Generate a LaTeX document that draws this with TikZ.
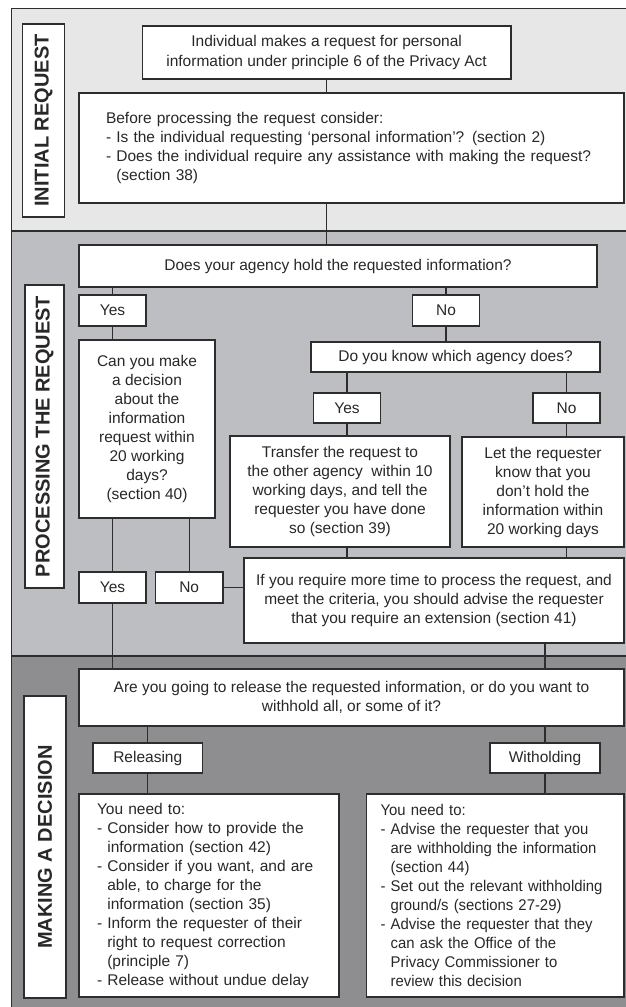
\documentclass[tikz,border=0pt]{standalone}
\usepackage{fontspec}
\setmainfont{Liberation Sans}
\newfontfamily\narrowfont[FakeStretch=0.96]{Liberation Sans}
\definecolor{bandA}{RGB}{231,231,231}
\definecolor{bandB}{RGB}{189,190,193}
\definecolor{bandC}{RGB}{142,142,145}
\definecolor{ink}{RGB}{40,40,40}
\definecolor{edge}{RGB}{45,45,45}
\newcommand\indt{\phantom{- }}
\tikzset{
  box/.style={draw=edge, fill=white, line width=1.1pt, inner sep=0pt, align=center,
    text=ink, font=\fontsize{15.5}{19}\selectfont},
  labbox/.style={draw=edge, fill=white, line width=1.1pt, inner sep=0pt, rotate=90,
    text=ink, font=\bfseries\fontsize{20}{24}\selectfont},
  band/.style={draw=edge, line width=1.6pt},
  conn/.style={draw=edge, line width=1.1pt}
}
\begin{document}
\begin{tikzpicture}[x=1pt,y=-1pt]
\useasboundingbox (0,0) rectangle (625,1007);
\fill[white] (0,0) rectangle (625,1007);
% bands
\path[band, fill=bandA] (11.5,8.5) rectangle (640,231);
\path[band, fill=bandB] (11.5,231) rectangle (640,656);
\path[band, fill=bandC] (11.5,656) rectangle (640,1015);

% initial request
\node[labbox, minimum width=193pt, minimum height=42pt] (lab1) at (43.6,120.5) {INITIAL REQUEST};
\node[box, minimum width=368.7pt, minimum height=53pt, font=\fontsize{15.5}{20}\selectfont] (top1) at (326.6,52.5)
  {Individual makes a request for personal\\information under principle 6 of the Privacy Act};
\node[box, minimum width=545pt, minimum height=110pt, text width=491pt, align=left] (cons) at (351.5,148)
  {Before processing the request consider:\\- Is the individual requesting ‘personal information’? (section 2)\\- Does the individual require any assistance with making the request?\\\indt(section 38)};

% processing the request
\node[labbox, minimum width=303pt, minimum height=39pt] (lab2) at (44.5,436.5) {PROCESSING THE REQUEST};
\node[box, minimum width=518pt, minimum height=42pt] (q1) at (338,266) {Does your agency hold the requested information?};
\node[box, minimum width=67pt, minimum height=31pt] (yes1) at (112.5,310.5) {Yes};
\node[box, minimum width=67pt, minimum height=31pt] (no1) at (446,310.5) {No};
\node[box, minimum width=289pt, minimum height=30pt] (q2) at (455.5,357) {Do you know which agency does?};
\node[box, minimum width=67pt, minimum height=30pt] (yes2) at (347,408) {Yes};
\node[box, minimum width=67pt, minimum height=30pt] (no2) at (566.5,408) {No};
\node[box, minimum width=136pt, minimum height=178pt] (q3) at (147,429)
  {Can you make\\a decision\\about the\\information\\request within\\20 working\\days?\\(section 40)};
\node[box, minimum width=220pt, minimum height=111pt] (tr) at (340,491.5)
  {Transfer the request to\\the other agency\ \ within 10\\working days, and tell the\\requester you have done\\so (section 39)};
\node[box, minimum width=162pt, minimum height=110pt] (let) at (543,492)
  {Let the requester\\know that you\\don’t hold the\\information within\\20 working days};
\node[box, minimum width=380pt, minimum height=85pt] (ext) at (434,600.5)
  {If you require more time to process the request, and\\meet the criteria, you should advise the requester\\that you require an extension (section 41)};
\node[box, minimum width=67pt, minimum height=31pt] (yes3) at (112.5,587.5) {Yes};
\node[box, minimum width=67.6pt, minimum height=31pt] (no3) at (189.2,587.5) {No};

% making a decision
\node[labbox, minimum width=302pt, minimum height=42pt] (lab3) at (45,847) {MAKING A DECISION};
\node[box, minimum width=545pt, minimum height=57pt] (dec) at (351.5,697.5)
  {Are you going to release the requested information, or do you want to\\withhold all, or some of it?};
\node[box, minimum width=109.5pt, minimum height=30pt] (rel) at (147.75,758) {Releasing};
\node[box, minimum width=110pt, minimum height=30pt] (wit) at (545,758) {Witholding};
\node[box, minimum width=260pt, minimum height=203pt, text width=224pt, align=left] (lb) at (209,895.5)
  {You need to:\\- Consider how to provide the\\\indt information (section 42)\\- Consider if you want, and are\\\indt able, to charge for the\\\indt information (section 35)\\- Inform the requester of their\\\indt right to request correction\\\indt (principle 7)\\- Release without undue delay};
\node[box, minimum width=257.3pt, minimum height=203pt, text width=229.5pt, align=left,
  font=\narrowfont\fontsize{15.5}{19}\selectfont] (rb) at (495.35,895.5)
  {You need to:\\- Advise the requester that you\\\indt are withholding the information\\\indt (section 44)\\- Set out the relevant withholding\\\indt ground/s (sections 27-29)\\- Advise the requester that they\\\indt can ask the Office of the\\\indt Privacy Commissioner to\\\indt review this decision};

% connectors
\draw[conn] (top1.south) -- (top1.south |- cons.north);
\draw[conn] (cons.south -| top1.south) -- (q1.north -| top1.south);
\draw[conn] (q1.south -| yes1.north) -- (yes1.north);
\draw[conn] (q1.south -| no1.north) -- (no1.north);
\draw[conn] (no1.south) -- (no1.south |- q2.north);
\draw[conn] (q2.south -| yes2.north) -- (yes2.north);
\draw[conn] (q2.south -| no2.north) -- (no2.north);
\draw[conn] (yes2.south) -- (yes2.south |- tr.north);
\draw[conn] (no2.south) -- (no2.south |- let.north);
\draw[conn] (tr.south -| yes2.south) -- (ext.north -| yes2.south);
\draw[conn] (let.south -| no2.south) -- (ext.north -| no2.south);
\draw[conn] (yes1.south) -- (yes1.south |- q3.north);
\draw[conn] (q3.south -| yes3.north) -- (yes3.north);
\draw[conn] (q3.south -| no3.north) -- (no3.north);
\draw[conn] (no3.east) -- (no3.east -| ext.west);
\draw[conn] (yes3.south) -- (yes3.south |- dec.north);
\draw[conn] (ext.south -| wit.north) -- (dec.north -| wit.north);
\draw[conn] (dec.south -| rel.north) -- (rel.north);
\draw[conn] (dec.south -| wit.north) -- (wit.north);
\draw[conn] (rel.south) -- (rel.south |- lb.north);
\draw[conn] (wit.south) -- (wit.south |- rb.north);
\end{tikzpicture}
\end{document}
